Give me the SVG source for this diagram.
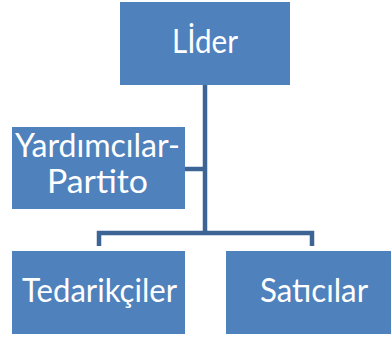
<svg xmlns="http://www.w3.org/2000/svg" width="391" height="337" viewBox="0 0 391 337">
<style>
.box{fill:#4F81BD}
.lbl{fill:#FFFFFF;font-family:Lato,"Noto Sans","Liberation Sans",sans-serif;font-size:32px;text-anchor:middle}
.conn{fill:none;stroke:#3C6494;stroke-width:4.5}
</style>
<rect width="391" height="337" fill="#FFFFFF"/>
<g id="connectors">
<path class="conn" d="M205,85 V233"/>
<path class="conn" d="M185,169 H205"/>
<path class="conn" d="M99,246 V233 H312 V246"/>
</g>
<g id="node-lider">
<rect class="box" x="120" y="2" width="170" height="83"/>
<text class="lbl" x="205" y="53" textLength="66" lengthAdjust="spacingAndGlyphs">Lİder</text>
</g>
<g id="node-yardimcilar">
<rect class="box" x="12" y="127" width="173" height="82"/>
<text class="lbl" x="97.5" y="157" textLength="165" lengthAdjust="spacingAndGlyphs">Yardımcılar-</text>
<text class="lbl" x="97.5" y="193" textLength="101" lengthAdjust="spacingAndGlyphs">Partito</text>
</g>
<g id="node-tedarikciler">
<rect class="box" x="12" y="251" width="173" height="83"/>
<text class="lbl" x="99.5" y="302" textLength="155" lengthAdjust="spacingAndGlyphs">Tedarikçiler</text>
</g>
<g id="node-saticilar">
<rect class="box" x="226" y="251" width="165" height="83"/>
<text class="lbl" x="314" y="302" textLength="108" lengthAdjust="spacingAndGlyphs">Satıcılar</text>
</g>
</svg>
